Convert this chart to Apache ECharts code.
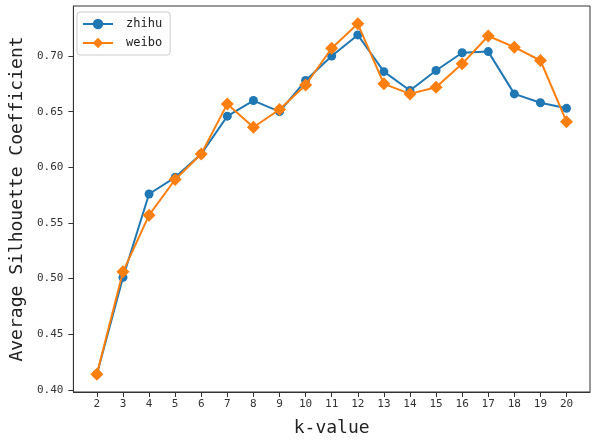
<!DOCTYPE html>
<html>
<head>
<meta charset="utf-8">
<script src="https://cdn.jsdelivr.net/npm/echarts@6/dist/echarts.min.js"></script>
<style>html,body{margin:0;padding:0;background:#fff}#c{width:600px;height:442px}</style>
</head>
<body>
<div id="c"></div>
<script>
const kValues = [2,3,4,5,6,7,8,9,10,11,12,13,14,15,16,17,18,19,20];
const zhihu = [0.414,0.501,0.576,0.591,0.612,0.646,0.660,0.650,0.678,0.700,0.719,0.686,0.669,0.687,0.703,0.704,0.666,0.658,0.653];
const weibo = [0.414,0.506,0.557,0.589,0.612,0.657,0.636,0.652,0.674,0.707,0.729,0.675,0.666,0.672,0.693,0.718,0.708,0.696,0.641];
const yTicks = [0.40,0.45,0.50,0.55,0.60,0.65,0.70];

const FONT = 'DejaVu Sans Mono';
const chart = echarts.init(document.getElementById('c'), null, {renderer:'canvas'});
const toPairs = arr => kValues.map((k,i)=>[k, arr[i]]);
chart.setOption({
  animation:false,
  backgroundColor:'#fff',
  grid:{left:72,right:10,top:6,bottom:50,show:true,borderColor:'#333',borderWidth:1,backgroundColor:'transparent'},
  legend:{
    orient:'vertical', left:77, top:12,
    padding:[6,8,6,5], itemGap:7, itemWidth:30, itemHeight:13,
    borderColor:'#ccc', borderWidth:1, borderRadius:3, backgroundColor:'rgba(255,255,255,0.8)',
    textStyle:{fontFamily:FONT,fontSize:12,color:'#222',padding:[0,0,0,8]},
    data:['zhihu','weibo']
  },
  xAxis:{
    type:'value', min:1.1, max:20.9,
    name:'k-value', nameLocation:'middle', nameGap:27,
    nameTextStyle:{fontFamily:FONT,fontSize:18,color:'#222'},
    axisLine:{show:true,lineStyle:{color:'#333',width:1}},
    axisTick:{show:true,length:5,lineStyle:{color:'#333'},customValues:kValues},
    axisLabel:{fontFamily:FONT,fontSize:11,color:'#333',margin:7,customValues:kValues},
    splitLine:{show:false}
  },
  yAxis:{
    type:'value', min:0.398, max:0.745,
    name:'Average Silhouette Coefficient', nameLocation:'middle', nameGap:47,
    nameTextStyle:{fontFamily:FONT,fontSize:18,color:'#222'},
    axisLine:{show:true,lineStyle:{color:'#333',width:1}},
    axisTick:{show:true,length:5,lineStyle:{color:'#333'},customValues:yTicks},
    axisLabel:{fontFamily:FONT,fontSize:11,color:'#333',margin:10,customValues:yTicks,formatter:v=>v.toFixed(2)},
    splitLine:{show:false}
  },
  series:[
    {name:'zhihu',type:'line',data:toPairs(zhihu),symbol:'circle',symbolSize:9,
     lineStyle:{color:'#1f77b4',width:2},itemStyle:{color:'#1f77b4'},z:2},
    {name:'weibo',type:'line',data:toPairs(weibo),symbol:'diamond',symbolSize:13,
     lineStyle:{color:'#ff7f0e',width:2},itemStyle:{color:'#ff7f0e'},z:3}
  ]
});
</script>
</body>
</html>
